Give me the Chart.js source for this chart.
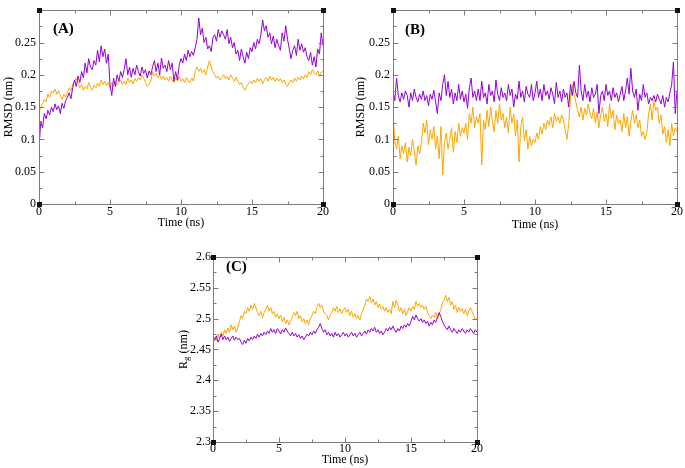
<!DOCTYPE html>
<html>
<head>
<meta charset="utf-8">
<script src="https://cdn.jsdelivr.net/npm/chart.js@4.4.1/dist/chart.umd.min.js"></script>
<style>
  html, body { margin:0; padding:0; background:#fff; }
  body { width:685px; height:468px; position:relative; overflow:hidden; }
  canvas { position:absolute; }
</style>
</head>
<body>
<canvas id="cA" width="340" height="235" style="left:0px;top:0px;width:340px;height:235px"></canvas>
<canvas id="cB" width="340" height="235" style="left:345px;top:0px;width:340px;height:235px"></canvas>
<canvas id="cC" width="330" height="228" style="left:170px;top:240px;width:330px;height:228px"></canvas>
<script>
// ---------- DATA ----------
// time axis: 0 .. 20 ns, one sample every 0.125 ns (161 samples)
const timeNs = Array.from({length: 161}, (_, i) => i * 0.125);

const xTickValues = [0, 5, 10, 15, 20];
const rmsdTickValues = [0, 0.05, 0.1, 0.15, 0.2, 0.25, 0.3];
const rgTickValues = [2.3, 2.35, 2.4, 2.45, 2.5, 2.55, 2.6];

// (A) RMSD (nm)
const rmsdA_purple = [
 0.085,0.128,0.118,0.140,0.132,0.145,0.138,0.150,
 0.143,0.155,0.146,0.152,0.140,0.156,0.148,0.160,
 0.165,0.172,0.163,0.180,0.192,0.182,0.198,0.188,
 0.205,0.195,0.218,0.203,0.225,0.212,0.208,0.222,
 0.215,0.238,0.220,0.245,0.228,0.240,0.218,0.232,
 0.185,0.168,0.195,0.182,0.200,0.190,0.205,0.196,
 0.208,0.225,0.200,0.212,0.196,0.210,0.200,0.215,
 0.205,0.198,0.212,0.202,0.208,0.195,0.206,0.200,
 0.212,0.222,0.205,0.218,0.200,0.226,0.210,0.215,
 0.205,0.222,0.208,0.218,0.190,0.205,0.192,0.215,
 0.225,0.218,0.232,0.222,0.238,0.228,0.236,0.230,
 0.242,0.255,0.288,0.262,0.272,0.250,0.258,0.240,
 0.245,0.236,0.258,0.262,0.252,0.270,0.258,0.268,
 0.262,0.255,0.270,0.248,0.258,0.242,0.250,0.232,
 0.238,0.222,0.240,0.228,0.218,0.235,0.225,0.242,
 0.236,0.250,0.240,0.255,0.248,0.262,0.285,0.268,
 0.276,0.258,0.265,0.248,0.260,0.242,0.255,0.245,
 0.238,0.265,0.252,0.276,0.255,0.240,0.225,0.238,
 0.245,0.230,0.255,0.238,0.248,0.235,0.242,0.228,
 0.222,0.235,0.215,0.228,0.212,0.240,0.232,0.265,
 0.245
];
const rmsdA_orange = [
 0.142,0.150,0.155,0.162,0.158,0.170,0.165,0.175,
 0.172,0.178,0.170,0.176,0.168,0.162,0.170,0.165,
 0.172,0.180,0.175,0.185,0.190,0.195,0.188,0.180,
 0.185,0.176,0.182,0.178,0.188,0.180,0.176,0.184,
 0.180,0.187,0.182,0.192,0.185,0.190,0.183,0.188,
 0.180,0.188,0.182,0.190,0.184,0.188,0.192,0.185,
 0.190,0.185,0.195,0.188,0.192,0.186,0.194,0.190,
 0.196,0.192,0.200,0.195,0.188,0.182,0.185,0.190,
 0.205,0.198,0.202,0.195,0.200,0.193,0.198,0.192,
 0.196,0.190,0.198,0.192,0.188,0.195,0.190,0.197,
 0.190,0.194,0.188,0.196,0.192,0.188,0.195,0.190,
 0.205,0.212,0.205,0.210,0.203,0.208,0.200,0.212,
 0.222,0.212,0.205,0.200,0.195,0.198,0.192,0.196,
 0.200,0.194,0.198,0.192,0.200,0.195,0.190,0.196,
 0.190,0.185,0.188,0.180,0.176,0.182,0.186,0.190,
 0.186,0.192,0.188,0.195,0.190,0.194,0.186,0.192,
 0.196,0.190,0.198,0.192,0.196,0.190,0.195,0.190,
 0.194,0.188,0.192,0.186,0.182,0.188,0.192,0.188,
 0.195,0.190,0.196,0.192,0.198,0.194,0.200,0.196,
 0.205,0.200,0.208,0.202,0.200,0.206,0.198,0.204,
 0.205
];

// (B) RMSD (nm)
const rmsdB_purple = [
 0.175,0.160,0.195,0.168,0.158,0.172,0.162,0.175,
 0.168,0.150,0.172,0.160,0.178,0.165,0.158,0.170,
 0.162,0.175,0.160,0.168,0.152,0.170,0.162,0.176,
 0.158,0.140,0.172,0.160,0.185,0.200,0.168,0.190,
 0.165,0.178,0.155,0.172,0.160,0.185,0.162,0.175,
 0.158,0.170,0.148,0.180,0.195,0.165,0.175,0.160,
 0.178,0.160,0.190,0.165,0.172,0.155,0.185,0.168,
 0.175,0.158,0.192,0.170,0.160,0.180,0.165,0.172,
 0.160,0.185,0.168,0.178,0.150,0.170,0.162,0.190,
 0.165,0.175,0.158,0.182,0.170,0.165,0.185,0.160,
 0.172,0.190,0.165,0.178,0.160,0.185,0.168,0.175,
 0.162,0.180,0.170,0.155,0.188,0.165,0.175,0.158,
 0.178,0.165,0.172,0.150,0.185,0.168,0.190,0.172,
 0.165,0.215,0.175,0.160,0.185,0.165,0.175,0.158,
 0.180,0.165,0.170,0.185,0.140,0.168,0.175,0.160,
 0.185,0.168,0.175,0.160,0.180,0.165,0.172,0.158,
 0.170,0.182,0.160,0.175,0.195,0.170,0.210,0.175,
 0.165,0.178,0.145,0.170,0.160,0.185,0.165,0.172,
 0.155,0.165,0.160,0.168,0.158,0.170,0.162,0.155,
 0.168,0.150,0.165,0.158,0.172,0.185,0.220,0.140,
 0.175
];
const rmsdB_orange = [
 0.140,0.098,0.085,0.105,0.070,0.090,0.078,0.095,
 0.065,0.088,0.075,0.100,0.082,0.060,0.090,0.078,
 0.095,0.125,0.110,0.130,0.092,0.115,0.100,0.120,
 0.085,0.105,0.070,0.120,0.045,0.095,0.110,0.085,
 0.100,0.118,0.080,0.112,0.095,0.125,0.105,0.118,
 0.110,0.125,0.100,0.140,0.125,0.150,0.118,0.135,
 0.125,0.140,0.060,0.130,0.115,0.145,0.120,0.150,
 0.128,0.112,0.145,0.125,0.155,0.130,0.140,0.118,
 0.135,0.110,0.150,0.125,0.140,0.105,0.130,0.065,
 0.120,0.135,0.098,0.115,0.085,0.105,0.090,0.100,
 0.095,0.110,0.100,0.120,0.108,0.125,0.115,0.130,
 0.122,0.135,0.118,0.140,0.128,0.135,0.125,0.138,
 0.130,0.115,0.100,0.125,0.165,0.185,0.170,0.158,
 0.145,0.135,0.150,0.130,0.148,0.138,0.155,0.140,
 0.132,0.148,0.125,0.142,0.118,0.138,0.150,0.128,
 0.140,0.120,0.155,0.132,0.145,0.115,0.138,0.125,
 0.130,0.112,0.140,0.118,0.135,0.105,0.128,0.145,
 0.125,0.138,0.118,0.130,0.105,0.112,0.100,0.110,
 0.140,0.155,0.130,0.160,0.145,0.150,0.125,0.138,
 0.108,0.120,0.095,0.115,0.090,0.125,0.105,0.118,
 0.112
];

// (C) Rg (nm)
const rgC_purple = [
 2.470,2.465,2.472,2.462,2.468,2.475,2.466,2.472,
 2.466,2.470,2.463,2.468,2.472,2.465,2.470,2.466,
 2.468,2.462,2.458,2.465,2.460,2.468,2.464,2.470,
 2.466,2.472,2.468,2.475,2.470,2.476,2.472,2.478,
 2.474,2.480,2.476,2.484,2.478,2.482,2.476,2.484,
 2.480,2.475,2.482,2.478,2.485,2.480,2.476,2.472,
 2.478,2.472,2.476,2.470,2.474,2.468,2.472,2.466,
 2.470,2.475,2.472,2.478,2.474,2.480,2.476,2.482,
 2.486,2.492,2.484,2.478,2.482,2.474,2.478,2.472,
 2.476,2.470,2.478,2.472,2.476,2.470,2.474,2.478,
 2.472,2.476,2.470,2.474,2.478,2.472,2.476,2.470,
 2.474,2.478,2.472,2.476,2.480,2.475,2.482,2.478,
 2.484,2.480,2.486,2.478,2.482,2.476,2.480,2.474,
 2.478,2.484,2.480,2.486,2.482,2.488,2.482,2.478,
 2.484,2.480,2.488,2.484,2.490,2.486,2.492,2.488,
 2.496,2.504,2.498,2.506,2.500,2.496,2.500,2.494,
 2.498,2.492,2.496,2.488,2.494,2.490,2.498,2.494,
 2.502,2.510,2.504,2.496,2.490,2.486,2.482,2.488,
 2.482,2.478,2.484,2.480,2.476,2.482,2.478,2.484,
 2.480,2.476,2.482,2.478,2.484,2.480,2.476,2.482,
 2.478
];
const rgC_orange = [
 2.462,2.470,2.465,2.475,2.468,2.478,2.472,2.482,
 2.476,2.485,2.478,2.490,2.482,2.488,2.478,2.485,
 2.495,2.505,2.500,2.512,2.508,2.518,2.512,2.522,
 2.515,2.525,2.518,2.510,2.505,2.512,2.502,2.510,
 2.515,2.522,2.512,2.518,2.508,2.512,2.502,2.508,
 2.500,2.506,2.495,2.502,2.492,2.498,2.490,2.496,
 2.502,2.510,2.505,2.512,2.500,2.505,2.495,2.500,
 2.492,2.498,2.490,2.500,2.505,2.512,2.508,2.518,
 2.525,2.518,2.522,2.512,2.508,2.505,2.498,2.505,
 2.510,2.518,2.512,2.520,2.510,2.516,2.508,2.514,
 2.518,2.510,2.515,2.505,2.512,2.502,2.508,2.500,
 2.505,2.498,2.508,2.515,2.522,2.532,2.528,2.536,
 2.526,2.532,2.522,2.528,2.518,2.524,2.515,2.520,
 2.512,2.518,2.510,2.515,2.508,2.528,2.518,2.530,
 2.522,2.512,2.518,2.508,2.515,2.505,2.512,2.518,
 2.512,2.520,2.515,2.528,2.520,2.525,2.518,2.522,
 2.515,2.520,2.510,2.505,2.500,2.506,2.502,2.510,
 2.500,2.505,2.515,2.525,2.530,2.538,2.528,2.535,
 2.522,2.528,2.515,2.522,2.510,2.518,2.512,2.516,
 2.508,2.515,2.505,2.512,2.518,2.512,2.505,2.498,
 2.502
];

// ---------- STYLE ----------
const PURPLE = '#9400d3';
const ORANGE = '#ffa500';
const FRAME = '#7c7c7c';
const SERIF = '"Liberation Serif", "DejaVu Serif", serif';

function fmt(v) { return String(Number(v.toFixed(3))); }

const framePlugin = {
  id: 'frame',
  afterDatasetsDraw(chart, args, o) {
    const ctx = chart.ctx;
    const {left, right, top, bottom} = chart.chartArea;
    const x = chart.scales.x, y = chart.scales.y;
    ctx.save();
    ctx.strokeStyle = FRAME;
    ctx.lineWidth = 1;
    const L = Math.round(left) + 0.5, R = Math.round(right) + 0.5;
    const T = Math.round(top) + 0.5, B = Math.round(bottom) + 0.5;
    ctx.strokeRect(L, T, R - L, B - T);
    ctx.beginPath();
    // x ticks (major + minor), bottom and top, pointing inward
    for (let i = 0; i < o.xTicks.length; i++) {
      const v = o.xTicks[i];
      const px = Math.round(x.getPixelForValue(v)) + 0.5;
      ctx.moveTo(px, B); ctx.lineTo(px, B - 5);
      ctx.moveTo(px, T); ctx.lineTo(px, T + 5);
      if (i < o.xTicks.length - 1) {
        const m = (v + o.xTicks[i + 1]) / 2;
        const pm = Math.round(x.getPixelForValue(m)) + 0.5;
        ctx.moveTo(pm, B); ctx.lineTo(pm, B - 3);
        ctx.moveTo(pm, T); ctx.lineTo(pm, T + 3);
      }
    }
    for (let i = 0; i < o.yTicks.length; i++) {
      const v = o.yTicks[i];
      const py = Math.round(y.getPixelForValue(v)) + 0.5;
      ctx.moveTo(L, py); ctx.lineTo(L + 5, py);
      ctx.moveTo(R, py); ctx.lineTo(R - 5, py);
      if (i < o.yTicks.length - 1) {
        const m = (v + o.yTicks[i + 1]) / 2;
        const pm = Math.round(y.getPixelForValue(m)) + 0.5;
        ctx.moveTo(L, pm); ctx.lineTo(L + 3, pm);
        ctx.moveTo(R, pm); ctx.lineTo(R - 3, pm);
      }
    }
    ctx.stroke();
    // corner markers
    ctx.fillStyle = '#111';
    [[L, T], [R, T], [L, B], [R, B]].forEach(([cx, cy]) => ctx.fillRect(cx - 2.5, cy - 2.5, 5, 5));
    // panel label
    ctx.fillStyle = '#000';
    ctx.font = 'bold 15px ' + SERIF;
    ctx.textBaseline = 'middle';
    ctx.textAlign = 'left';
    ctx.fillText(o.label, left + o.lx, top + o.ly);
    // custom y title with subscript
    if (o.rgTitle) {
      ctx.translate(o.rgTitle.x, (top + bottom) / 2 + o.rgTitle.dy);
      ctx.rotate(-Math.PI / 2);
      ctx.textBaseline = 'middle';
      ctx.font = '12px ' + SERIF;
      const w1 = ctx.measureText('R').width;
      ctx.font = '9px ' + SERIF;
      const w2 = ctx.measureText('g').width;
      ctx.font = '12px ' + SERIF;
      const w3 = ctx.measureText(' (nm)').width;
      let sx = -(w1 + w2 + w3) / 2;
      ctx.fillText('R', sx, 0); sx += w1;
      ctx.font = '9px ' + SERIF;
      ctx.fillText('g', sx, 3); sx += w2;
      ctx.font = '12px ' + SERIF;
      ctx.fillText(' (nm)', sx, 0);
    }
    ctx.restore();
  }
};

function makeChart(id, cfg) {
  const ds = [
    { data: cfg.purple.map((v, i) => ({x: timeNs[i], y: v})), borderColor: PURPLE, borderWidth: 1, pointRadius: 0, tension: 0 },
    { data: cfg.orange.map((v, i) => ({x: timeNs[i], y: v})), borderColor: ORANGE, borderWidth: 1, pointRadius: 0, tension: 0 }
  ];
  return new Chart(document.getElementById(id), {
    type: 'line',
    data: { datasets: ds },
    plugins: [framePlugin],
    options: {
      responsive: false,
      animation: false,
      devicePixelRatio: 1,
      layout: { padding: cfg.padding },
      plugins: {
        legend: { display: false },
        tooltip: { enabled: false },
        frame: { label: cfg.label, lx: cfg.lx, ly: cfg.ly, xTicks: xTickValues, yTicks: cfg.yTicks, rgTitle: cfg.rgTitle }
      },
      scales: {
        x: {
          type: 'linear', min: 0, max: 20,
          afterBuildTicks: s => { s.ticks = xTickValues.map(v => ({value: v})); },
          afterFit: s => { s.height = cfg.xH; },
          grid: { display: false, drawTicks: false },
          border: { display: false },
          ticks: { color: '#000', font: { family: SERIF, size: 12 }, padding: cfg.xTickPad, maxRotation: 0, autoSkip: false, callback: v => fmt(v) },
          title: { display: true, text: 'Time (ns)', color: '#000', font: { family: SERIF, size: 12 }, padding: { top: 0, bottom: cfg.xTitlePad } }
        },
        y: {
          type: 'linear', min: cfg.yMin, max: cfg.yMax,
          afterBuildTicks: s => { s.ticks = cfg.yTicks.map(v => ({value: v})); },
          afterFit: s => { s.width = cfg.yW; },
          grid: { display: false, drawTicks: false },
          border: { display: false },
          ticks: { color: '#000', font: { family: SERIF, size: 12 }, padding: cfg.yTickPad, autoSkip: false,
                   callback: v => (cfg.hideTop && Math.abs(v - cfg.yMax) < 1e-9) ? '' : fmt(v) },
          title: { display: !!cfg.yTitle, text: cfg.yTitle || '', color: '#000', font: { family: SERIF, size: 12 }, padding: { top: cfg.yTitlePad, bottom: 0 } }
        }
      }
    }
  });
}

makeChart('cA', {
  purple: rmsdA_purple, orange: rmsdA_orange,
  yMin: 0, yMax: 0.3, yTicks: rmsdTickValues, hideTop: true,
  padding: { left: 0, top: 6, right: 17, bottom: 0 },
  xH: 31, yW: 39, xTickPad: 1, xTitlePad: 5, yTickPad: 3, yTitlePad: 2,
  yTitle: 'RMSD (nm)', label: '(A)', lx: 14, ly: 19
});
makeChart('cB', {
  purple: rmsdB_purple, orange: rmsdB_orange,
  yMin: 0, yMax: 0.3, yTicks: rmsdTickValues, hideTop: true,
  padding: { left: 0, top: 6, right: 8, bottom: 0 },
  xH: 31, yW: 48, xTickPad: 1, xTitlePad: 3, yTickPad: 3, yTitlePad: 9,
  yTitle: 'RMSD (nm)', label: '(B)', lx: 12, ly: 20
});
makeChart('cC', {
  purple: rgC_purple, orange: rgC_orange,
  yMin: 2.3, yMax: 2.6, yTicks: rgTickValues, hideTop: false,
  padding: { left: 0, top: 17, right: 23, bottom: 0 },
  xH: 26, yW: 43, xTickPad: 0, xTitlePad: 1, yTickPad: 2, yTitlePad: 0,
  yTitle: null, rgTitle: { x: 14, dy: 0 }, label: '(C)', lx: 13, ly: 10
});
</script>
</body>
</html>
